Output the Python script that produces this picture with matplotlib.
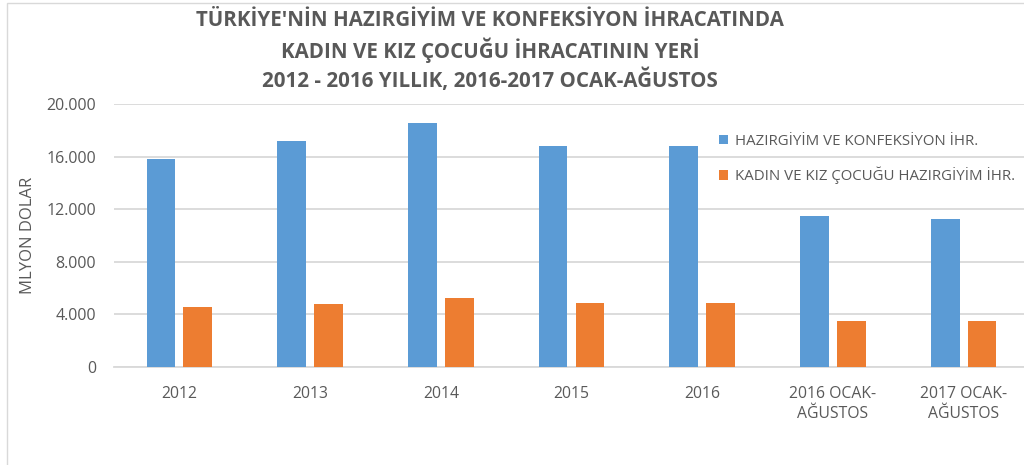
import matplotlib
matplotlib.use("Agg")
import matplotlib.pyplot as plt
from matplotlib.patches import Rectangle
import numpy as np

categories = ["2012", "2013", "2014", "2015", "2016", "2016 OCAK-\nAĞUSTOS", "2017 OCAK-\nAĞUSTOS"]
apparel = [15800, 17160, 18550, 16800, 16800, 11480, 11280]
women_girls = [4590, 4790, 5270, 4890, 4890, 3500, 3500]
series_names = ["HAZIRGİYİM VE KONFEKSİYON İHR.", "KADIN VE KIZ ÇOCUĞU HAZIRGİYİM İHR."]
yticks = [0, 4000, 8000, 12000, 16000, 20000]
ytick_labels = ["0", "4.000", "8.000", "12.000", "16.000", "20.000"]
title_lines = ["TÜRKİYE'NİN HAZIRGİYİM VE KONFEKSİYON İHRACATINDA",
               "KADIN VE KIZ ÇOCUĞU İHRACATININ YERİ",
               "2012 - 2016 YILLIK, 2016-2017 OCAK-AĞUSTOS"]
ylabel = "MLYON DOLAR"

title_font = "Open Sans"
body_font = "Open Sans"

BLUE = "#5B9BD5"
ORANGE = "#ED7D31"
GRAY = "#595959"
GRID = "#D9D9D9"

W, H = 1024, 465
fig = plt.figure(figsize=(W / 100, H / 100), dpi=100)
fig.patch.set_facecolor("white")

# outer chart border
fig.patches.append(Rectangle((7 / W, -0.1), 1.2, (H - 3) / H + 0.1, transform=fig.transFigure,
                             fill=False, edgecolor="#D9D9D9", linewidth=1.0))

ax = fig.add_axes([114 / W, (H - 367) / H, 915 / W, (367 - 104) / H])
ax.set_facecolor("none")
x = np.arange(len(categories))
bw = 0.22
off = 0.141
ax.bar(x - off, apparel, bw, color=BLUE, label=series_names[0], zorder=3)
ax.bar(x + off, women_girls, bw, color=ORANGE, label=series_names[1], zorder=3)

ax.set_xlim(-0.5, len(categories) - 0.5)
ax.set_ylim(0, 20000)
ax.set_yticks(yticks)
ax.set_yticklabels(ytick_labels, fontsize=11.5, color=GRAY, family=body_font)
ax.set_xticks(x)
ax.set_xticklabels(categories, fontsize=11.3, color=GRAY, family=body_font, linespacing=1.3)
ax.tick_params(axis="both", length=0)
ax.tick_params(axis="y", pad=13)
ax.tick_params(axis="x", pad=14)
ax.grid(axis="y", color=GRID, linewidth=1.3, zorder=0)
for s in ["top", "right", "left"]:
    ax.spines[s].set_visible(False)
ax.spines["bottom"].set_color(GRID)
ax.spines["bottom"].set_linewidth(1.3)

ax.set_ylabel(ylabel, fontsize=12, color=GRAY, family=body_font)
ax.yaxis.set_label_coords(-(114 - 36) / 915, (367 - 235) / 263)

leg = ax.legend(loc="upper left", bbox_to_anchor=((719 - 114) / 915, (367 - 134) / 263),
                frameon=False, handlelength=0.6, handleheight=0.6,
                handletextpad=0.45, labelspacing=1.2, borderpad=0, borderaxespad=0,
                prop={"family": body_font, "size": 10.8})
for t in leg.get_texts():
    t.set_color(GRAY)

ys = [20, 50, 80]
for line, yy in zip(title_lines, ys):
    fig.text(490 / W, 1 - yy / H, line, ha="center", va="center", fontsize=14.8,
             fontweight="bold", color=GRAY, family=title_font)

fig.savefig("out.png", dpi=100, facecolor="white")
